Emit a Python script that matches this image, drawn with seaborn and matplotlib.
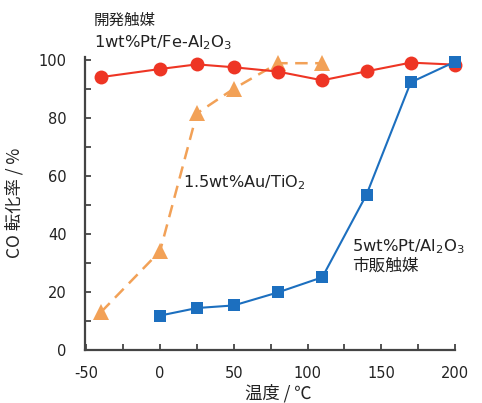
import pandas as pd
import matplotlib
matplotlib.use("Agg")
import matplotlib.pyplot as plt
import seaborn as sns
from matplotlib.ticker import MultipleLocator

# data
temp_dev = [-40, 0, 25, 50, 80, 110, 140, 170, 200]
conv_dev = [94.0, 96.8, 98.4, 97.4, 95.9, 92.9, 96.0, 99.0, 98.3]   # 1wt%Pt/Fe-Al2O3

temp_au = [-40, 0, 25, 50, 80, 110]
conv_au = [13.0, 34.0, 81.5, 90.0, 98.8, 98.8]                     # 1.5wt%Au/TiO2

temp_com = [0, 25, 50, 80, 110, 140, 170, 200]
conv_com = [11.8, 14.4, 15.3, 19.8, 25.0, 53.5, 92.2, 99.3]        # 5wt%Pt/Al2O3

sns.set_theme(style="white")
plt.rcParams['font.family'] = ['DejaVu Sans', 'Noto Sans CJK JP']
plt.rcParams['mathtext.fontset'] = 'dejavusans'

red = '#EE3524'
orange = '#F2A157'
blue = '#1C6FBF'
dark = '#222222'
cjk = ['Noto Sans CJK JP', 'DejaVu Sans']

fig = plt.figure(figsize=(4.82, 4.03), dpi=100)
ax = fig.add_axes([0.176, 0.132, 0.768, 0.727])

df_dev = pd.DataFrame({'temp': temp_dev, 'conv': conv_dev})
df_au = pd.DataFrame({'temp': temp_au, 'conv': conv_au})
df_com = pd.DataFrame({'temp': temp_com, 'conv': conv_com})

sns.lineplot(data=df_au, x='temp', y='conv', ax=ax, color=orange, linewidth=1.8,
             linestyle=(0, (5, 3)), marker='^', markersize=11, markeredgewidth=0,
             clip_on=False, zorder=3)
sns.lineplot(data=df_dev, x='temp', y='conv', ax=ax, color=red, linewidth=1.5,
             marker='o', markersize=10, markeredgewidth=0, clip_on=False, zorder=4)
sns.lineplot(data=df_com, x='temp', y='conv', ax=ax, color=blue, linewidth=1.5,
             marker='s', markersize=9, markeredgewidth=0, clip_on=False, zorder=5)

ax.set_xlim(-51, 200)
ax.set_ylim(0, 101)
ax.xaxis.set_minor_locator(MultipleLocator(25))
ax.yaxis.set_major_locator(MultipleLocator(20))
ax.yaxis.set_minor_locator(MultipleLocator(10))
ax.set_xticks([-50, 0, 50, 100, 150, 200])
ax.set_xticklabels(['-50', '0', '50', '100', '150', '200'])

for side in ['top', 'right']:
    ax.spines[side].set_visible(False)
for side in ['left', 'bottom']:
    ax.spines[side].set_color('#444444')
    ax.spines[side].set_linewidth(1.6)

ax.tick_params(which='both', direction='in', color='#444444', width=1.3,
               bottom=True, left=True)
ax.tick_params(which='major', length=4, labelsize=10.5, labelcolor=dark)
ax.tick_params(axis='x', which='major', pad=12)
ax.tick_params(axis='y', which='major', pad=13)
ax.tick_params(which='minor', length=4)

ax.set_xlabel('温度 / ℃', fontsize=12.5, color=dark, family=cjk)
ax.set_ylabel('CO 転化率 / %', fontsize=12.5, color=dark, family=cjk)
ax.xaxis.set_label_coords(0.524, -0.118)
ax.yaxis.set_label_coords(-0.165, 0.5)

ax.text(-45, 113.5, '開発触媒', fontsize=11.2, color=dark, ha='left', va='center',
        family=cjk)
ax.text(-45, 105.9, '1wt%Pt/Fe-Al$_2$O$_3$', fontsize=11.8, color=dark,
        ha='left', va='center')
ax.text(15.5, 57.5, '1.5wt%Au/TiO$_2$', fontsize=11.6, color=dark, ha='left', va='center')
ax.text(130, 35.6, '5wt%Pt/Al$_2$O$_3$', fontsize=11.8, color=dark, ha='left', va='center')
ax.text(130, 28.7, '市販触媒', fontsize=12, color=dark, ha='left', va='center',
        family=cjk)

fig.savefig('out.png', dpi=100)
